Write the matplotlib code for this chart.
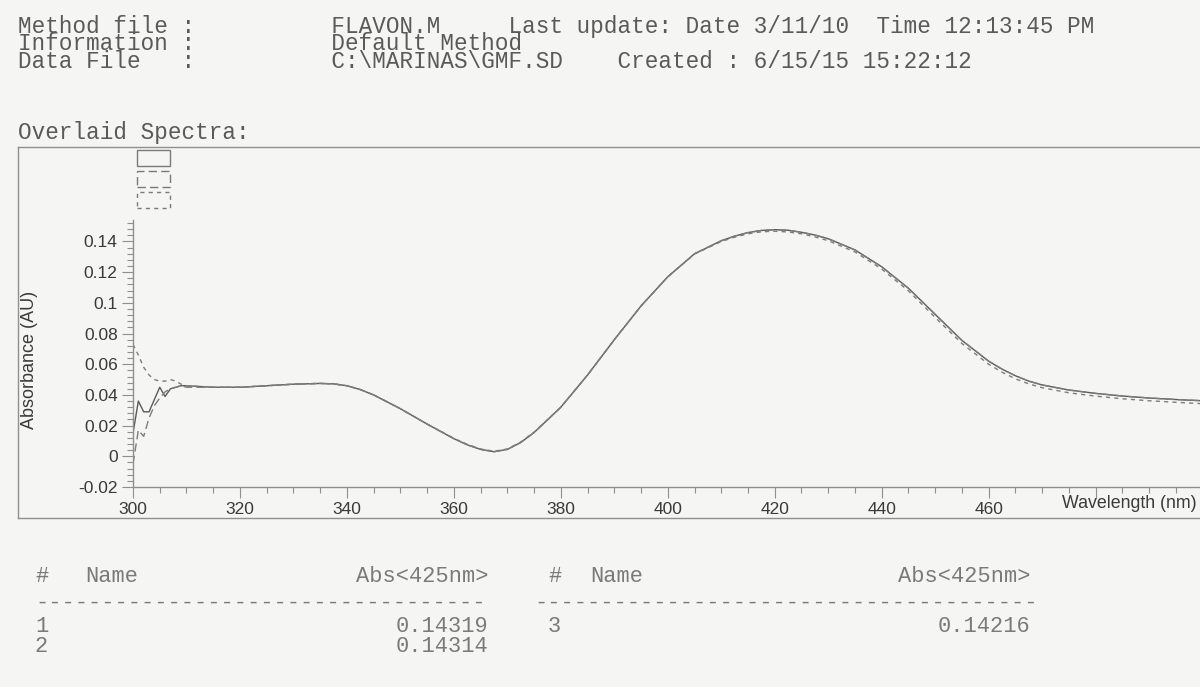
import matplotlib
matplotlib.use("Agg")
import matplotlib.pyplot as plt
from matplotlib.lines import Line2D
from matplotlib.patches import Rectangle
from matplotlib.ticker import FixedLocator, MultipleLocator

# %% data
wavelength = [300, 301, 302, 303, 304, 305, 306, 307, 308, 309, 310,
              315, 320, 325, 330, 335, 337.5, 340, 342.5, 345,
              350, 355, 360, 362.5, 365, 367.5, 370, 372.5, 375,
              380, 385, 390, 395, 400, 405, 410, 412.5, 415, 417.5, 420,
              422.5, 425, 427.5, 430, 435, 440, 445, 450, 455, 460,
              462.5, 465, 467.5, 470, 475, 480, 485, 490, 495, 500]

spec1 = [0.015, 0.036, 0.029, 0.029, 0.037, 0.045, 0.039, 0.044, 0.045, 0.046, 0.046,
         0.045, 0.045, 0.046, 0.047, 0.0475, 0.0472, 0.046, 0.0435, 0.040,
         0.031, 0.021, 0.0115, 0.0075, 0.0045, 0.003, 0.0045, 0.009, 0.0155,
         0.032, 0.053, 0.076, 0.098, 0.117, 0.132, 0.1405, 0.1435, 0.1458, 0.1472, 0.1477,
         0.1473, 0.146, 0.1442, 0.1418, 0.1345, 0.1235, 0.1095, 0.0925, 0.0755, 0.062,
         0.0568, 0.0525, 0.049, 0.0465, 0.0432, 0.041, 0.0393, 0.038, 0.037, 0.0362]

spec2 = [-0.005, 0.017, 0.013, 0.025, 0.033, 0.038, 0.042, 0.044, 0.045, 0.046, 0.045,
         0.045, 0.045, 0.046, 0.047, 0.0475, 0.0472, 0.046, 0.0435, 0.040,
         0.031, 0.021, 0.0115, 0.0075, 0.0045, 0.003, 0.0045, 0.009, 0.0155,
         0.032, 0.053, 0.076, 0.098, 0.117, 0.132, 0.1405, 0.1435, 0.1458, 0.1472, 0.1477,
         0.1473, 0.146, 0.1442, 0.1418, 0.1345, 0.1235, 0.1095, 0.0925, 0.0755, 0.062,
         0.0568, 0.0525, 0.049, 0.0465, 0.0432, 0.041, 0.0393, 0.038, 0.037, 0.0362]

spec3 = [0.073, 0.066, 0.058, 0.053, 0.050, 0.049, 0.049, 0.050, 0.049, 0.047, 0.046,
         0.045, 0.045, 0.046, 0.047, 0.0475, 0.0472, 0.046, 0.0435, 0.040,
         0.031, 0.021, 0.0117, 0.0078, 0.0048, 0.0033, 0.0048, 0.0093, 0.0158,
         0.032, 0.053, 0.076, 0.098, 0.117, 0.1318, 0.1400, 0.1428, 0.1450, 0.1463, 0.1467,
         0.1462, 0.1450, 0.1430, 0.1405, 0.1332, 0.1220, 0.1078, 0.0905, 0.0735, 0.0600,
         0.0548, 0.0505, 0.0472, 0.0447, 0.0414, 0.0392, 0.0375, 0.0362, 0.0352, 0.0343]

xticks = [300, 320, 340, 360, 380, 400, 420, 440, 460, 480]
xticklabels = ["300", "320", "340", "360", "380", "400", "420", "440", "460", ""]
yticks = [-0.02, 0, 0.02, 0.04, 0.06, 0.08, 0.1, 0.12, 0.14]
yticklabels = ["-0.02", "0", "0.02", "0.04", "0.06", "0.08", "0.1", "0.12", "0.14"]

header_lines = [
    "Method file :          FLAVON.M     Last update: Date 3/11/10  Time 12:13:45 PM",
    "Information :          Default Method",
    "Data File   :          C:\\MARINAS\\GMF.SD    Created : 6/15/15 15:22:12",
]
table_rows = [("1", "0.14319", "3", "0.14216"),
              ("2", "0.14314", "", "")]

# %% figure
W, H = 1200, 687
BG = "#f5f5f4"
fig = plt.figure(figsize=(W / 100, H / 100), dpi=100, facecolor=BG)


def px(x, y):
    return x / W, 1 - y / H


mono = "Liberation Mono"
sans = "Liberation Sans"
hcol = "#5a5a5a"
hfs = 16.3

# header block (printer output, monospaced)
for line, y in zip(header_lines, [26, 44, 62]):
    fig.text(*px(18, y), line, family=mono, fontsize=hfs, color=hcol, va="center")

fig.text(*px(18, 133), "Overlaid Spectra:", family=mono, fontsize=hfs,
         color=hcol, va="center")

# outer frame of the spectra box (right side runs off the page)
frame_col = "#8f8f8f"
for (x0, y0), (x1, y1) in [((18, 147), (1205, 147)), ((18, 147), (18, 518)),
                           ((18, 518), (1205, 518))]:
    a0, b0 = px(x0, y0)
    a1, b1 = px(x1, y1)
    fig.add_artist(Line2D([a0, a1], [b0, b1], color=frame_col, lw=1.0))

# legend sample boxes (no labels on the printout)
for y0, ls in [(150, "-"), (171, (0, (6, 3))), (192, (0, (3, 3)))]:
    x0, y1 = px(137, y0 + 16)
    fig.add_artist(Rectangle((x0, y1), 33 / W, 16 / H, fill=False,
                             ec="#7a7a7a", lw=1.0, ls=ls))

# %% spectra axes
ax = fig.add_axes([133 / W, 1 - 487 / H, (W - 133) / W, (487 - 220) / H])
ax.set_facecolor("none")
ax.plot(wavelength, spec1, color="#5a5a5a", lw=1.0, ls="-")
ax.plot(wavelength, spec2, color="#7d7d7d", lw=1.0, ls=(0, (6, 3)))
ax.plot(wavelength, spec3, color="#7d7d7d", lw=1.0, ls=(0, (3, 3)))

ax.set_xlim(300, 300 + (W - 133) / 5.348)
ax.set_ylim(-0.02, 0.154)
for s in ["top", "right"]:
    ax.spines[s].set_visible(False)
for s in ["left", "bottom"]:
    ax.spines[s].set_color("#8f8f8f")
    ax.spines[s].set_linewidth(1.0)

ax.xaxis.set_major_locator(FixedLocator(xticks))
ax.set_xticklabels(xticklabels)
ax.xaxis.set_minor_locator(MultipleLocator(5))
ax.yaxis.set_major_locator(FixedLocator(yticks))
ax.set_yticklabels(yticklabels)
ax.yaxis.set_minor_locator(MultipleLocator(0.004))
ax.tick_params(which="major", length=8, width=0.8, color="#8f8f8f",
               labelsize=12.5, labelcolor="#3a3a3a", pad=3)
ax.tick_params(which="minor", length=4, width=0.8, color="#8f8f8f")
for lab in ax.get_xticklabels() + ax.get_yticklabels():
    lab.set_family(sans)

fig.text(*px(1197, 503), "Wavelength (nm)", family=sans, fontsize=12.8,
         color="#3a3a3a", ha="right", va="center")
fig.text(*px(30, 360), "Absorbance (AU)", family=sans, fontsize=13,
         color="#3a3a3a", ha="center", va="center", rotation=90)

# %% result table
tcol = "#7a7a7a"
tfs = 15.8
for x_hash, x_name, x_abs, x_dash, n_dash in [(35, 85, 488, 35, 34),
                                              (548, 590, 1030, 534, 38)]:
    fig.text(*px(x_hash, 577), "#", family=mono, fontsize=tfs, color=tcol, va="center")
    fig.text(*px(x_name, 577), "Name", family=mono, fontsize=tfs, color=tcol, va="center")
    fig.text(*px(x_abs, 577), "Abs<425nm>", family=mono, fontsize=tfs, color=tcol,
             va="center", ha="right")
    fig.text(*px(x_dash, 603), "-" * n_dash, family=mono, fontsize=tfs, color=tcol,
             va="center", ha="left")

for (n1, v1, n2, v2), y in zip(table_rows, [627, 646]):
    fig.text(*px(35, y), n1, family=mono, fontsize=tfs, color=tcol, va="center")
    fig.text(*px(488, y), v1, family=mono, fontsize=tfs, color=tcol, va="center", ha="right")
    if n2:
        fig.text(*px(548, y), n2, family=mono, fontsize=tfs, color=tcol, va="center")
        fig.text(*px(1030, y), v2, family=mono, fontsize=tfs, color=tcol, va="center", ha="right")

fig.savefig("out.png", dpi=100, facecolor=BG)
